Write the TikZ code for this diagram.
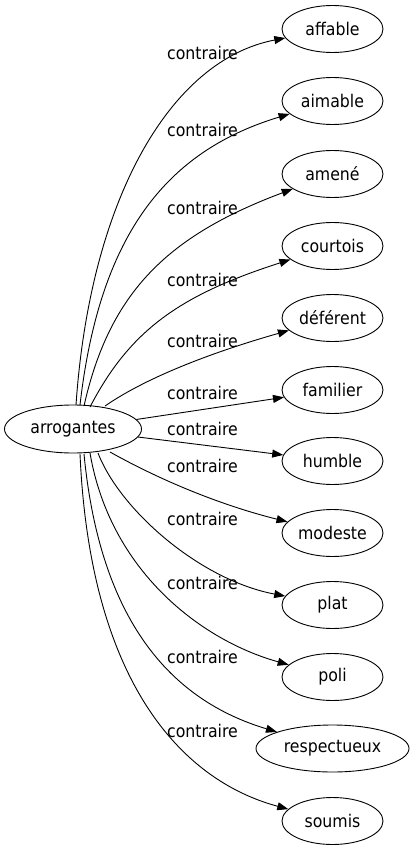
\documentclass[tikz,border=0pt]{standalone}
\usepackage{fontspec}
\setmainfont{DejaVu Sans Condensed}
\usetikzlibrary{shapes.geometric,arrows.meta}
\begin{document}
\begin{tikzpicture}[x=1pt,y=-1pt,
  nodebox/.style={draw,ellipse,inner sep=0pt,minimum width=101pt,minimum height=47pt,line width=0.9pt,font=\fontsize{17.5}{20}\selectfont},
  lbl/.style={font=\fontsize{17.5}{20}\selectfont,inner sep=0pt},
  edge/.style={line width=0.9pt,-{Triangle[length=11pt,width=8pt]}}]
\useasboundingbox (0,0) rectangle (414,851);
\node[nodebox,minimum width=137pt,minimum height=48pt] (src) at (73,429) {arrogantes};
\node[nodebox] (n1) at (332.5,29) {affable};
\node[nodebox] (n2) at (332.5,101) {aimable};
\node[nodebox] (n3) at (332.5,174) {amené};
\node[nodebox] (n4) at (332.5,246) {courtois};
\node[nodebox] (n5) at (332.5,318) {déférent};
\node[nodebox] (n6) at (332.5,390) {familier};
\node[nodebox] (n7) at (332.5,461) {humble};
\node[nodebox] (n8) at (332.5,533) {modeste};
\node[nodebox] (n9) at (332.5,605) {plat};
\node[nodebox] (n10) at (332.5,677) {poli};
\node[nodebox,minimum width=153pt] (n11) at (332.5,748.5) {respectueux};
\node[nodebox] (n12) at (332.5,821) {soumis};
\coordinate (s1) at (76,405);
\coordinate (s2) at (80,405);
\coordinate (s3) at (84,406);
\coordinate (s4) at (90,407);
\coordinate (s5) at (105,406);
\coordinate (s8) at (110,452);
\coordinate (s9) at (98,453);
\coordinate (s10) at (90,453);
\coordinate (s11) at (84,454);
\coordinate (s12) at (80,454);
\draw[edge] (s1) .. controls (90,200) and (170,60) .. (n1);
\draw[edge] (s2) .. controls (100,230) and (170,150) .. (n2);
\draw[edge] (s3) .. controls (110,290) and (170,235) .. (n3);
\draw[edge] (s4) .. controls (130,330) and (180,295) .. (n4);
\draw[edge] (s5) .. controls (150,375) and (220,350) .. (n5);
\draw[edge] (src) -- (n6);
\draw[edge] (src) -- (n7);
\draw[edge] (s8) .. controls (160,480) and (220,505) .. (n8);
\draw[edge] (s9) .. controls (120,510) and (200,580) .. (n9);
\draw[edge] (s10) .. controls (110,570) and (200,640) .. (n10);
\draw[edge] (s11) .. controls (100,620) and (170,700) .. (n11);
\draw[edge] (s12) .. controls (90,680) and (180,780) .. (n12);
\node[lbl] (l1) at (202.5,53) {contraire};
\node[lbl] (l2) at (202.5,130) {contraire};
\node[lbl] (l3) at (202.5,208) {contraire};
\node[lbl] (l4) at (202.5,280) {contraire};
\node[lbl] (l5) at (202.5,341) {contraire};
\node[lbl] (l6) at (202.5,393) {contraire};
\node[lbl] (l7) at (202.5,429) {contraire};
\node[lbl] (l8) at (202.5,466) {contraire};
\node[lbl] (l9) at (202.5,519) {contraire};
\node[lbl] (l10) at (202.5,583) {contraire};
\node[lbl] (l11) at (202.5,657) {contraire};
\node[lbl] (l12) at (202.5,731) {contraire};
\end{tikzpicture}
\end{document}
